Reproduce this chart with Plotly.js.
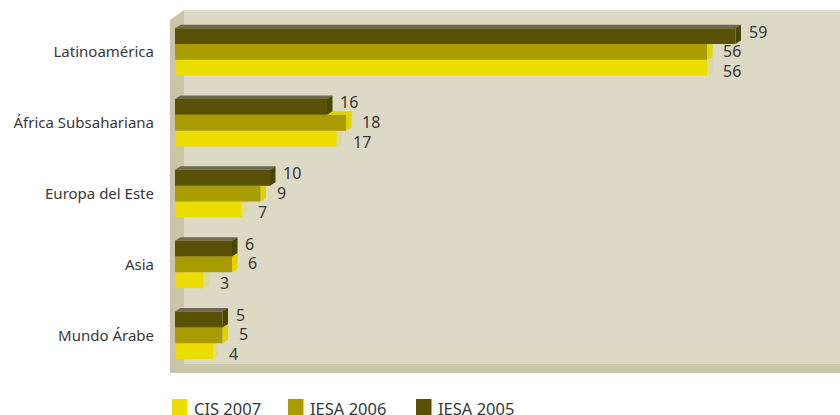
<!DOCTYPE html>
<html>
<head>
<meta charset="utf-8">
<script src="https://cdn.plot.ly/plotly-3.0.1.min.js"></script>
<style>
  html, body { margin: 0; padding: 0; background: #ffffff; }
  #chart { width: 840px; height: 415px; }
</style>
</head>
<body>
<div id="chart"></div>
<script>
// ---- data ----
const categories = ['Latinoamérica', 'África Subsahariana', 'Europa del Este', 'Asia', 'Mundo Árabe'];
const cis2007 = [56, 17, 7, 3, 4];
const iesa2006 = [56, 18, 9, 6, 5];
const iesa2005 = [59, 16, 10, 6, 5];
const seriesNames = ['CIS 2007', 'IESA 2006', 'IESA 2005'];

// ---- styles ----
const frontColors = ['#ecdc00', '#a89c00', '#595106'];
const sideColors  = ['#dcd8a2', '#e2d200', '#4a4504'];
const topColors   = ['#dcd8a2', '#e2d200', '#6b6a52'];
const labelXShift = [14, 14, 11];
const labelUpPx = [-3, 1, 4.5]; // label offset from bar centre, pixels upward

const W = 840, H = 415;
const M = { l: 175, r: 0, t: 10, b: 51 };
const plotW = W - M.l - M.r, plotH = H - M.t - M.b;
const xRange = [0, 70];
const yRange = [-0.405, 4.591];
const bargap = 0.33;
const depthX = 5.5, depthY = 3.5; // pixel depth of the 3D effect

const pxPerX = plotW / (xRange[1] - xRange[0]);
const pxPerY = plotH / (yRange[1] - yRange[0]);
const nS = seriesNames.length;
const barW = (1 - bargap) / nS;
const halfH = barW * pxPerY / 2;
const order = categories.slice().reverse();
const series = [cis2007, iesa2006, iesa2005];

const traces = series.map((vals, s) => ({
  type: 'bar', orientation: 'h', name: seriesNames[s],
  x: vals, y: categories,
  marker: { color: frontColors[s], line: { width: 0 } },
  hoverinfo: 'none', showlegend: false
}));

const shapes = [];
const annotations = [];
const px2paperX = p => (p - M.l) / plotW;
const px2paperY = p => (H - M.b - p) / plotH;

// walls
shapes.push({ type: 'rect', xref: 'paper', yref: 'paper', layer: 'below',
  x0: px2paperX(184), x1: 1, y0: 0, y1: 1, fillcolor: '#dcd9c4', line: { width: 0 } });
shapes.push({ type: 'path', xref: 'paper', yref: 'paper', layer: 'below',
  xsizemode: 'pixel', ysizemode: 'pixel', xanchor: 0, yanchor: 0,
  path: 'M-5,344 L9,354 L9,0 L665,0 L665,-9 L-5,-9 Z',
  fillcolor: '#c9c6a6', line: { width: 0 } });

// 3D faces + value labels, from data
series.forEach((vals, s) => {
  vals.forEach((v, i) => {
    const idx = order.indexOf(categories[i]);
    const yc = idx - (1 - bargap) / 2 + barW * (s + 0.5);
    // top face
    const dxData = depthX / pxPerX;
    shapes.push({ type: 'path', xref: 'x', yref: 'y', layer: 'below',
      ysizemode: 'pixel', yanchor: yc,
      path: `M0,${halfH} L${v},${halfH} L${v + dxData},${halfH + depthY} L${dxData},${halfH + depthY} Z`,
      fillcolor: topColors[s], line: { width: 0 } });
    // side face
    shapes.push({ type: 'path', xref: 'x', yref: 'y', layer: 'below',
      xsizemode: 'pixel', ysizemode: 'pixel', xanchor: v, yanchor: yc,
      path: `M0,${-halfH} L0,${halfH} L${depthX},${halfH + depthY} L${depthX},${-halfH + depthY} Z`,
      fillcolor: sideColors[s], line: { width: 0 } });
    annotations.push({ xref: 'x', yref: 'y', x: v, y: yc + labelUpPx[s] / pxPerY, text: String(v),
      showarrow: false, xanchor: 'left', yanchor: 'middle',
      xshift: labelXShift[s],
      font: { family: 'Noto Sans, sans-serif', size: 16, color: '#383838' } });
  });
});

// legend (custom, matches swatch geometry)
const legendX = [172, 288, 416];
series.forEach((vals, s) => {
  shapes.push({ type: 'rect', xref: 'paper', yref: 'paper', layer: 'above',
    x0: px2paperX(legendX[s]), x1: px2paperX(legendX[s] + 15.5),
    y0: px2paperY(399), y1: px2paperY(418),
    fillcolor: frontColors[s], line: { width: 0 } });
  annotations.push({ xref: 'paper', yref: 'paper',
    x: px2paperX(legendX[s] + 20), y: px2paperY(408.5),
    text: seriesNames[s], showarrow: false, xanchor: 'left', yanchor: 'middle',
    font: { family: 'Noto Sans, sans-serif', size: 16.5, color: '#383838' } });
});

const layout = {
  width: W, height: H,
  margin: M,
  paper_bgcolor: '#ffffff', plot_bgcolor: 'rgba(0,0,0,0)',
  barmode: 'group', bargap: bargap, bargroupgap: 0,
  showlegend: false,
  xaxis: { range: xRange, showgrid: false, zeroline: false, showline: false,
    showticklabels: false, ticks: '', fixedrange: true },
  yaxis: { type: 'category', categoryorder: 'array', categoryarray: order,
    range: yRange, showgrid: false, zeroline: false, showline: false, ticks: '',
    ticklabelstandoff: 20,
    tickfont: { family: 'Noto Sans, sans-serif', size: 15, color: '#383838' },
    fixedrange: true },
  shapes: shapes,
  annotations: annotations
};

Plotly.newPlot('chart', traces, layout, { displayModeBar: false, staticPlot: true });
</script>
</body>
</html>
